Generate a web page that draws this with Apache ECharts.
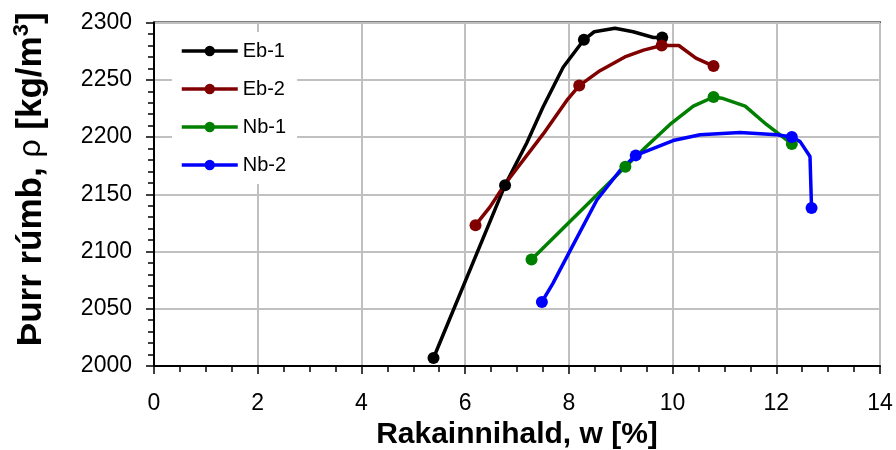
<!DOCTYPE html>
<html>
<head>
<meta charset="utf-8">
<script src="https://cdn.jsdelivr.net/npm/echarts@6/dist/echarts.min.js"></script>
<style>
  html, body { margin: 0; padding: 0; background: #fff; }
  #chart { width: 896px; height: 450px; }
</style>
</head>
<body>
<div id="chart"></div>
<script>
// mældir punktar (merktir með hring), lesnir af myndinni
var seriesNames = ['Eb-1', 'Eb-2', 'Nb-1', 'Nb-2'];
var eb1W = [5.39, 6.77, 8.29, 9.80];
var eb1Rho = [2007, 2158, 2285, 2287];
var eb2W = [6.20, 8.20, 9.79, 10.79];
var eb2Rho = [2123, 2245, 2280, 2262];
var nb1W = [7.28, 9.09, 10.79, 12.30];
var nb1Rho = [2093, 2174, 2235, 2194];
var nb2W = [7.48, 9.29, 12.30, 12.68];
var nb2Rho = [2056, 2184, 2200, 2138];

// millipunktar á sléttuðu línunum, lesnir af myndinni (án merkja)
var eb1CurveW = [7.19, 7.50, 7.89, 8.49, 8.89, 9.24, 9.63];
var eb1CurveRho = [2195, 2226, 2261, 2292, 2295, 2292, 2287];
var eb2CurveW = [6.48, 6.77, 7.51, 7.96, 8.60, 9.08, 9.44, 10.12, 10.45];
var eb2CurveRho = [2139, 2159, 2203, 2232, 2258, 2270, 2276, 2280, 2269];
var nb1CurveW = [9.50, 9.95, 10.40, 10.95, 11.40, 11.81];
var nb1CurveRho = [2192, 2211, 2227, 2234, 2227, 2211];
var nb2CurveW = [7.69, 8.05, 8.54, 8.99, 10.01, 10.53, 11.30, 12.01, 12.46, 12.65];
var nb2CurveRho = [2072, 2103, 2145, 2171, 2197, 2202, 2204, 2202, 2196, 2183];

var colors = ['#000000', '#800000', '#008000', '#0000ff'];

function buildData(mw, mr, cw, cr) {
    var out = [];
    for (var i = 0; i < mw.length; i++) {
        out.push({value: [mw[i], mr[i]]});
    }
    for (var j = 0; j < cw.length; j++) {
        out.push({value: [cw[j], cr[j]], symbol: 'none'});
    }
    out.sort(function (a, b) { return a.value[0] - b.value[0]; });
    return out;
}

var allData = [
    buildData(eb1W, eb1Rho, eb1CurveW, eb1CurveRho),
    buildData(eb2W, eb2Rho, eb2CurveW, eb2CurveRho),
    buildData(nb1W, nb1Rho, nb1CurveW, nb1CurveRho),
    buildData(nb2W, nb2Rho, nb2CurveW, nb2CurveRho)
];

var font = '"Liberation Sans", Arial, sans-serif';

var series = [];
var legendData = [];
for (var i = 0; i < seriesNames.length; i++) {
    series.push({
        name: seriesNames[i],
        type: 'line',
        data: allData[i],
        smooth: false,
        symbol: 'circle',
        symbolSize: 12,
        showAllSymbol: true,
        lineStyle: {color: colors[i], width: 3.5},
        itemStyle: {color: colors[i]},
        emphasis: {disabled: true}
    });
    legendData.push({name: seriesNames[i], lineStyle: {width: 3.5}});
}

var myChart = echarts.init(document.getElementById('chart'), null, {renderer: 'canvas'});
myChart.setOption({
    animation: false,
    grid: {
        left: 154, right: 16, top: 22.6, bottom: 84,
        outerBoundsMode: 'none',
        containLabel: false,
        show: true, borderColor: '#000', borderWidth: 2
    },
    legend: {
        orient: 'vertical',
        left: 172, top: 32,
        backgroundColor: '#fff',
        padding: [9, 11, 9, 8],
        itemWidth: 56, itemHeight: 13, itemGap: 18,
        lineStyle: {width: 3.5},
        textStyle: {fontSize: 20, color: '#000', fontFamily: font},
        data: legendData
    },
    xAxis: {
        type: 'value',
        min: 0, max: 14, interval: 2,
        name: 'Rakainnihald, w [%]',
        nameLocation: 'middle',
        nameGap: 52,
        nameTextStyle: {fontSize: 30, fontWeight: 'bold', color: '#000', fontFamily: font},
        axisLine: {show: true, lineStyle: {color: '#000', width: 2}},
        axisTick: {show: true, length: 8, lineStyle: {color: '#000', width: 1.5}},
        minorTick: {show: true, splitNumber: 4, length: 6, lineStyle: {color: '#000', width: 1.5}},
        axisLabel: {fontSize: 23, color: '#000', margin: 26, fontFamily: font},
        splitLine: {show: true, lineStyle: {color: '#c0c0c0', width: 2}}
    },
    yAxis: {
        type: 'value',
        min: 2000, max: 2300, interval: 50,
        name: '{b|Þurr rúmb, }{r|ρ}{b| [kg/m}{s|3}{b|]}',
        nameLocation: 'middle',
        nameGap: 103,
        nameTextStyle: {
            color: '#000',
            padding: [0, 0, 0, 30],
            rich: {
                b: {fontSize: 35, fontWeight: 'bold', color: '#000', fontFamily: font, lineHeight: 40},
                r: {fontSize: 32, fontWeight: 'normal', color: '#000', fontFamily: font, lineHeight: 40},
                s: {fontSize: 22, fontWeight: 'bold', color: '#000', fontFamily: font, verticalAlign: 'top', lineHeight: 22}
            }
        },
        axisLine: {show: true, lineStyle: {color: '#000', width: 2}},
        axisTick: {show: true, length: 8, lineStyle: {color: '#000', width: 1.5}},
        minorTick: {show: true, splitNumber: 5, length: 6, lineStyle: {color: '#000', width: 1.5}},
        axisLabel: {
            fontSize: 23, color: '#000', margin: 22, fontFamily: font,
            formatter: function (v) { return String(v); }
        },
        splitLine: {show: true, lineStyle: {color: '#c0c0c0', width: 2}}
    },
    series: series
});
</script>
</body>
</html>
